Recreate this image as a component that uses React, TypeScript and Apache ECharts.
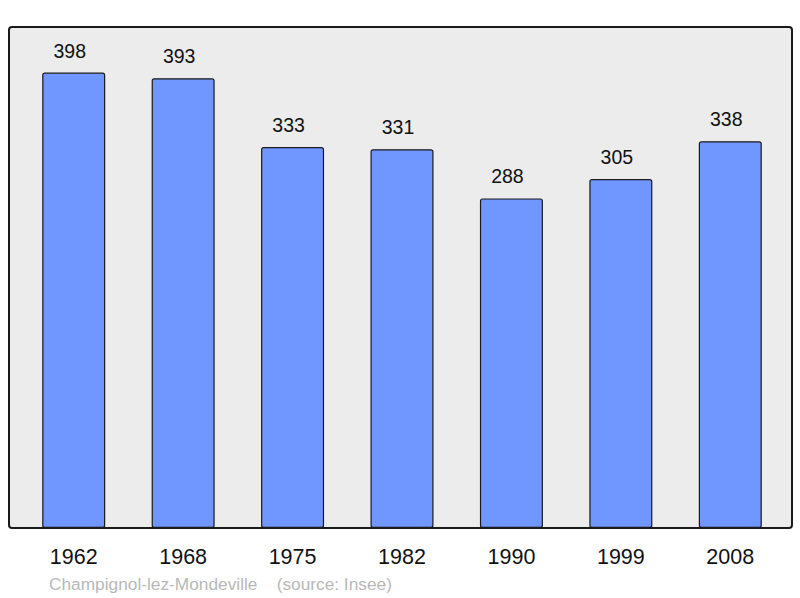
import React, { useEffect, useRef } from "react";
import * as echarts from "echarts";

const years = ["1962", "1968", "1975", "1982", "1990", "1999", "2008"];
const population = [398, 393, 333, 331, 288, 305, 338];
const footerText = "Champignol-lez-Mondeville    (source: Insee)";

export default function App() {
  const ref = useRef<HTMLDivElement>(null);
  useEffect(() => {
    const chart = echarts.init(ref.current!, null, { renderer: "svg" });
    chart.setOption({
      animation: false,
      backgroundColor: "#ffffff",
      textStyle: { fontFamily: "Liberation Sans, Arial, sans-serif" },
      grid: { left: 19, right: 15, top: 27, bottom: 70, containLabel: false },
      graphic: [
        {
          type: "rect",
          z: -10,
          silent: true,
          shape: { x: 9, y: 27, width: 783, height: 501, r: 3 },
          style: { fill: "#ececec", stroke: "#1a1a1a", lineWidth: 2 },
        },
        {
          type: "text",
          left: 49,
          top: 575,
          style: {
            text: footerText,
            fill: "#b8b8b8",
            fontSize: 17.3,
            fontFamily: "Liberation Sans, Arial, sans-serif",
          },
        },
      ],
      xAxis: {
        type: "category",
        data: years,
        axisLine: { show: false },
        axisTick: { show: false },
        axisLabel: { color: "#111", fontSize: 21.5, margin: 18 },
      },
      yAxis: {
        type: "value",
        min: 0,
        max: 437.8,
        show: false,
        splitLine: { show: false },
      },
      series: [
        {
          type: "bar",
          data: population,
          barWidth: 63,
          itemStyle: {
            color: "#7096ff",
            borderColor: "#1a1a1a",
            borderWidth: 1.2,
            borderRadius: 2,
          },
          label: {
            show: true,
            position: "top",
            distance: 12,
            offset: [-4, 0],
            color: "#111",
            fontSize: 19.5,
          },
        },
      ],
    });
    return () => chart.dispose();
  }, []);
  return <div ref={ref} style={{ width: 800, height: 598, position: "absolute", left: 0, top: 0 }} />;
}
